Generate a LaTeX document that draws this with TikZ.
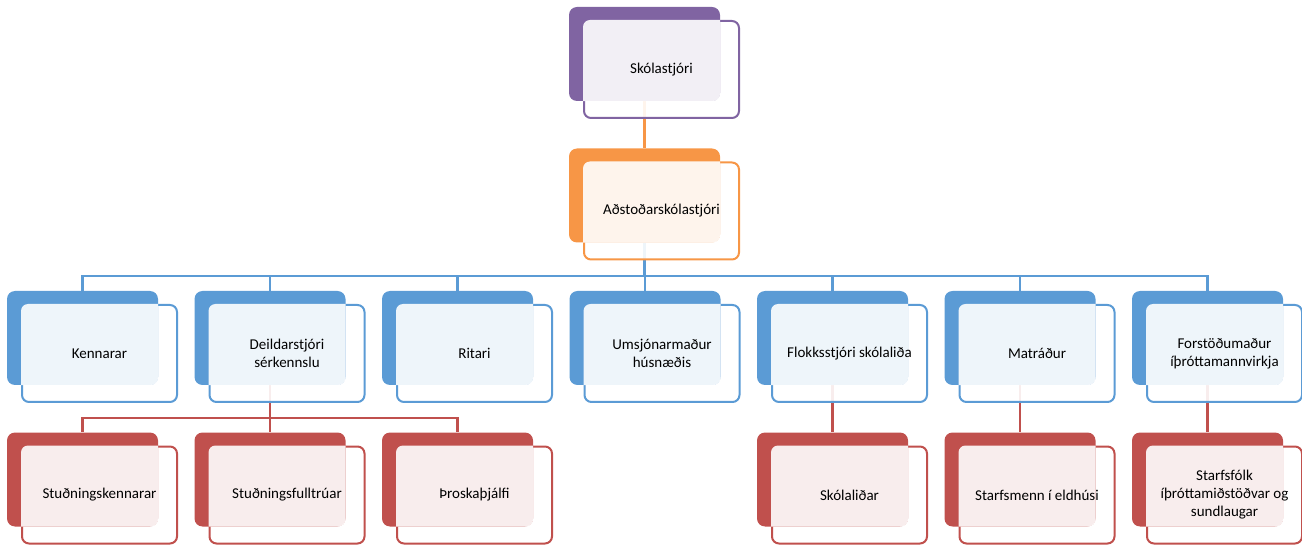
\documentclass[tikz,border=0pt]{standalone}
\usepackage{fontspec}
\setmainfont{Carlito}
\usetikzlibrary{calc,backgrounds,positioning}
\definecolor{orgpurple}{HTML}{8064A2}
\definecolor{orgorange}{HTML}{F79646}
\definecolor{orgblue}{HTML}{5B9BD5}
\definecolor{orgred}{HTML}{C0504D}
\tikzset{
  backbox/.style={rectangle, rounded corners=8pt, minimum width=151pt, minimum height=94pt, inner sep=0pt},
  frontbox/.style={rectangle, rounded corners=7pt, minimum width=155pt, minimum height=97pt, inner sep=0pt, fill=white, fill opacity=.9, line width=2pt},
  boxtext/.style={align=center, font=\fontsize{15}{18}\selectfont, text=black},
  link/.style={line width=2.2pt},
}
\newcommand{\orgunit}[4]{%
  \node[frontbox, draw=#3] (#1F) at ($(#2)+(17,15.5)$) {};
  \node[backbox, fill=#3] (#1) at (#2) {};
  \begin{scope}
    \clip[rounded corners=8pt] (#1.north west) rectangle (#1.south east);
    \fill[white, fill opacity=.9, rounded corners=7pt] (#1F.north west) rectangle (#1F.south east);
  \end{scope}
  \node[boxtext] (#1T) at (#1F) {#4};
}

\begin{document}
\begin{tikzpicture}[x=1pt,y=-1pt]
  \useasboundingbox (0,0) rectangle (1302,545);

  % top
  \orgunit{skola}{644.5,54}{orgpurple}{Skólastjóri}
  \orgunit{adst}{644.5,195.5}{orgorange}{Aðstoðarskólastjóri}

  % middle row
  \orgunit{kenn}{82.5,338}{orgblue}{Kennarar}
  \orgunit{deild}{270,338}{orgblue}{Deildarstjóri\\sérkennslu}
  \orgunit{ritari}{457.5,338}{orgblue}{Ritari}
  \orgunit{umsjon}{645,338}{orgblue}{Umsjónarmaður\\húsnæðis}
  \orgunit{flokk}{832.5,338}{orgblue}{Flokksstjóri skólaliða}
  \orgunit{matr}{1020,338}{orgblue}{Matráður}
  \orgunit{forst}{1207.5,338}{orgblue}{Forstöðumaður\\íþróttamannvirkja}

  % bottom row
  \orgunit{studk}{82.5,479.5}{orgred}{Stuðningskennarar}
  \orgunit{studf}{270,479.5}{orgred}{Stuðningsfulltrúar}
  \orgunit{throska}{457.5,479.5}{orgred}{Þroskaþjálfi}
  \orgunit{skolalid}{832.5,479.5}{orgred}{Skólaliðar}
  \orgunit{starfsm}{1020,479.5}{orgred}{Starfsmenn í eldhúsi}
  \orgunit{starfsf}{1207.5,479.5}{orgred}{Starfsfólk\\íþróttamiðstöðvar og\\sundlaugar}

  % connectors
  \begin{pgfonlayer}{background}
    \draw[link, orgorange] (skola.south) -- (adst.north);
    \coordinate (busA) at ($(adstF.south)!.5!(kenn.north)$);
    \foreach \c in {kenn,deild,ritari,umsjon,flokk,matr,forst}
      \draw[link, orgblue] (adst.south) |- (busA -| \c.north) -- (\c.north);
    \coordinate (busB) at ($(deildF.south)!.5!(studk.north)$);
    \foreach \c in {studk,studf,throska}
      \draw[link, orgred] (deild.south) |- (busB -| \c.north) -- (\c.north);
    \draw[link, orgred] (flokk.south) -- (skolalid.north);
    \draw[link, orgred] (matr.south) -- (starfsm.north);
    \draw[link, orgred] (forst.south) -- (starfsf.north);
  \end{pgfonlayer}
\end{tikzpicture}
\end{document}
